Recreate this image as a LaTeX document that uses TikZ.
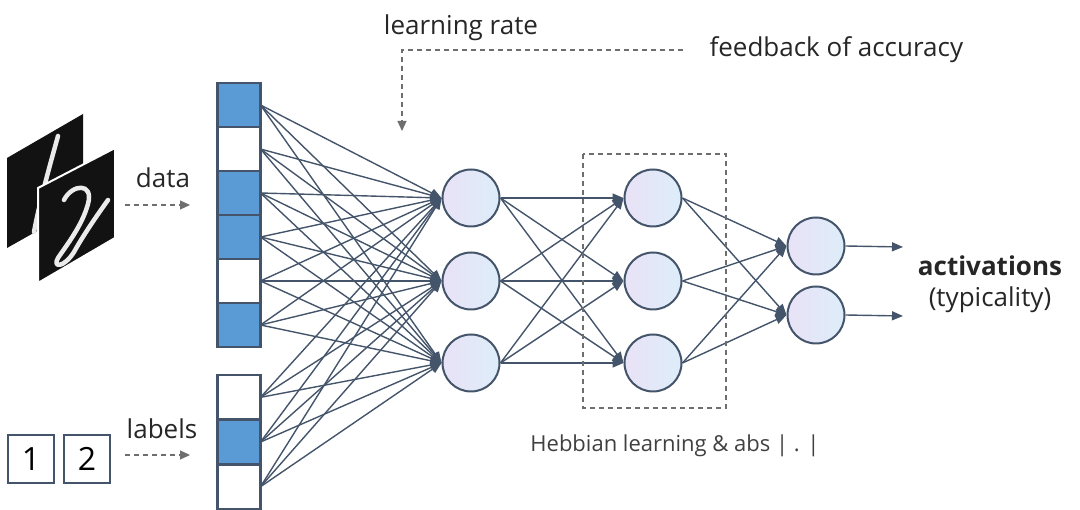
\documentclass[tikz,border=0pt]{standalone}
\usepackage{fontspec}
\setmainfont{Open Sans}
\usetikzlibrary{arrows.meta}
\definecolor{edge}{HTML}{44546A}
\definecolor{cellblue}{HTML}{5B9BD5}
\definecolor{nfillA}{HTML}{E9E2F6}
\definecolor{nfillB}{HTML}{DDEDF9}
\definecolor{dgray}{HTML}{6E6E6E}
\tikzset{
  cell/.style={draw=edge,line width=2.2pt,minimum width=43pt,minimum height=44pt,inner sep=0pt,outer sep=0pt},
  on/.style={cell,fill=cellblue},
  off/.style={cell,fill=white},
  neuron/.style={circle,draw=edge,line width=2pt,minimum size=57pt,inner sep=0pt,left color=nfillA,right color=nfillB},
  conn/.style={draw=edge,line width=1.4pt,-{Triangle[length=11pt,width=9pt]}},
  dashln/.style={draw=dgray,line width=1.2pt,dash pattern=on 5pt off 4pt},
  lbl/.style={font=\fontsize{26}{30}\selectfont,text=black!85},
  digitbox/.style={draw=edge,line width=2.2pt,minimum width=46pt,minimum height=48pt,inner sep=0pt,font=\fontsize{32}{34}\selectfont},
  stroke/.style={white!92!black,line width=4.5pt,line cap=round,line join=round}
}
\begin{document}
\begin{tikzpicture}[x=1pt,y=-1pt]
\useasboundingbox (0,0) rectangle (1080,510);
% images
\fill[black!93] (7,158) -- (83,114) -- (83,205) -- (7,248) -- cycle;
\draw[stroke] (58,136) .. controls (50,165) and (40,200) .. (34,232);
\filldraw[fill=black!93,draw=white,line width=2pt] (38,188) -- (115,148) -- (115,238) -- (38,283) -- cycle;
\draw[stroke] (64,200) .. controls (72,184) and (94,182) .. (88,204) .. controls (82,226) and (66,246) .. (58,258) .. controls (52,268) and (64,268) .. (74,252) .. controls (84,234) and (98,214) .. (108,200);
% digit boxes
\node[digitbox] (d1) at (31,459) {1};
\node[digitbox] (d2) at (87,459) {2};
% input cells
\foreach \i/\s in {1/on,2/off,3/on,4/on,5/off,6/on}{
  \node[\s] (a\i) at (239,{83+44*(\i-1)+22}) {};
}
\foreach \i/\s in {7/off,8/on,9/off}{
  \node[\s] (a\i) at (239,{375+44.7*(\i-7)+22.35}) {};
}
% neurons
\node[neuron] (h1) at (471,198) {};
\node[neuron] (h2) at (471,281) {};
\node[neuron] (h3) at (471,363) {};
\node[neuron] (g1) at (653,198) {};
\node[neuron] (g2) at (653,281) {};
\node[neuron] (g3) at (653,363) {};
\node[neuron] (o1) at (816,246) {};
\node[neuron] (o2) at (816,315) {};
\coordinate (e1) at (903,247);
\coordinate (e2) at (903,316);
% connections
\foreach \i in {1,...,9}{\foreach \j in {1,2,3}{\path[conn] (a\i.east) -- (h\j.west);}}
\foreach \i in {1,2,3}{\foreach \j in {1,2,3}{\path[conn] (h\i.east) -- (g\j.west);}}
\foreach \i in {1,2,3}{\foreach \j in {1,2}{\path[conn] (g\i.east) -- (o\j.west);}}
\path[conn] (o1.east) -- (e1);
\path[conn] (o2.east) -- (e2);
% dashed box
\draw[dashln] (583,154) rectangle (726,408);
\node[font=\fontsize{22}{26}\selectfont,text=black!75] (heb) at (675,446) {Hebbian learning \& abs | . |};
% texts
\node[lbl] (lr) at (461,28) {learning rate};
\node[lbl,anchor=west] (fb) at (706,50) {feedback of accuracy};
\coordinate (fbstart) at (683,50);
\coordinate (lrtip) at (402,131);
\draw[dashln,-{Triangle[length=10pt,width=9pt]}] (fbstart) -- (402,50) -- (lrtip);
\node[lbl] (data) at (163,178) {data};
\coordinate (ds) at (125,205); \coordinate (de) at (190,205);
\draw[dashln,-{Triangle[length=10pt,width=9pt]}] (ds) -- (de);
\node[lbl] (labels) at (162,429) {labels};
\coordinate (ls) at (125,455); \coordinate (le) at (190,455);
\draw[dashln,-{Triangle[length=10pt,width=9pt]}] (ls) -- (le);
\node[lbl,font=\fontsize{26}{30}\selectfont\bfseries] (act) at (990,266) {activations};
\node[lbl] (typ) at (990,300) {(typicality)};
\end{tikzpicture}
\end{document}
